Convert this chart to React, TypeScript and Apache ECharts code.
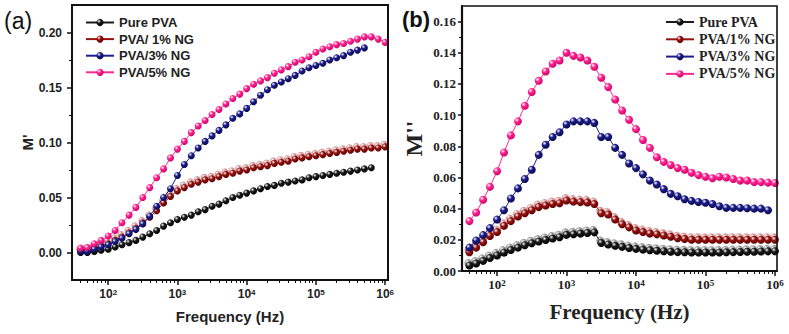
import React, { useEffect, useRef } from 'react';
import * as echarts from 'echarts';

// Measurement frequencies (Hz), 10 points per decade
const FREQ = [
  40, 50, 63, 79, 100, 126, 158, 200, 251, 316, 398, 501, 631, 794, 1000, 1259, 1585, 1995, 2512,
  3162, 3981, 5012, 6310, 7943, 10000, 12589, 15849, 19953, 25119, 31623, 39811, 50119, 63096,
  79433, 100000, 125893, 158489, 199526, 251189, 316228, 398107, 501187, 630957, 794328, 1000000,
];

const NAMES_A = ['Pure PVA', 'PVA/ 1% NG', 'PVA/3% NG', 'PVA/5% NG'];
const NAMES_B = ['Pure PVA', 'PVA/1% NG', 'PVA/3% NG', 'PVA/5% NG'];

// (a) real part M'
const MR_PURE = [
  0.0, 0.0, 0.001, 0.002, 0.003, 0.005, 0.007, 0.009, 0.011, 0.014,
  0.017, 0.02, 0.024, 0.027, 0.03, 0.032, 0.034, 0.037, 0.039, 0.042,
  0.044, 0.047, 0.05, 0.052, 0.054, 0.056, 0.058, 0.06, 0.061, 0.063,
  0.064, 0.065, 0.066, 0.068, 0.069, 0.07, 0.071, 0.072, 0.073, 0.074,
  0.075, 0.076, 0.077,
];
const MR_NG1 = [
  0.001, 0.002, 0.004, 0.006, 0.008, 0.011, 0.014, 0.018, 0.022, 0.027,
  0.032, 0.038, 0.045, 0.051, 0.056, 0.059, 0.062, 0.064, 0.066, 0.067,
  0.069, 0.071, 0.072, 0.074, 0.075, 0.077, 0.078, 0.079, 0.081, 0.082,
  0.083, 0.085, 0.086, 0.087, 0.088, 0.089, 0.09, 0.091, 0.092, 0.093,
  0.094, 0.094, 0.095, 0.095, 0.096,
];
const MR_NG3 = [
  0.001, 0.001, 0.003, 0.005, 0.007, 0.01, 0.013, 0.017, 0.021, 0.026,
  0.033, 0.042, 0.05, 0.058, 0.07, 0.08, 0.088, 0.095, 0.101, 0.106,
  0.111, 0.116, 0.122, 0.126, 0.131, 0.137, 0.143, 0.148, 0.152, 0.155,
  0.158, 0.161, 0.165, 0.168, 0.17, 0.172, 0.175, 0.177, 0.179, 0.182,
  0.184, 0.186,
];
const MR_NG5 = [
  0.004, 0.0045, 0.008, 0.011, 0.015, 0.02, 0.027, 0.034, 0.041, 0.05,
  0.059, 0.068, 0.076, 0.086, 0.094, 0.101, 0.109, 0.115, 0.12, 0.1255,
  0.13, 0.135, 0.14, 0.144, 0.149, 0.153, 0.156, 0.159, 0.163, 0.166,
  0.169, 0.173, 0.175, 0.178, 0.182, 0.185, 0.187, 0.189, 0.19, 0.192,
  0.194, 0.196, 0.196, 0.194, 0.191,
];

// (b) imaginary part M''
const MI_PURE = [
  0.0035, 0.0048, 0.0065, 0.0083, 0.01, 0.0118, 0.0135, 0.015, 0.0165, 0.0178,
  0.0189, 0.0199, 0.0208, 0.0217, 0.0232, 0.0236, 0.024, 0.0244, 0.0248, 0.018,
  0.017, 0.0162, 0.0155, 0.0148, 0.0142, 0.0137, 0.0133, 0.013, 0.0127, 0.0124,
  0.0121, 0.012, 0.0119, 0.0119, 0.0119, 0.0119, 0.0119, 0.012, 0.0121, 0.0122,
  0.0123, 0.0124, 0.0125, 0.0126, 0.0127,
];
const MI_NG1 = [
  0.012, 0.015, 0.0185, 0.0225, 0.025, 0.029, 0.032, 0.035, 0.037, 0.039,
  0.041, 0.042, 0.043, 0.0435, 0.0452, 0.0445, 0.0442, 0.044, 0.043, 0.037,
  0.0362, 0.033, 0.03, 0.028, 0.026, 0.025, 0.024, 0.0235, 0.0228, 0.022,
  0.021, 0.0205, 0.02, 0.02, 0.02, 0.02, 0.02, 0.02, 0.02, 0.02,
  0.02, 0.02, 0.02, 0.02, 0.02,
];
const MI_NG3 = [
  0.015, 0.0196, 0.023, 0.0275, 0.033, 0.039, 0.0465, 0.053, 0.059, 0.065,
  0.0745, 0.081, 0.086, 0.089, 0.094, 0.096, 0.096, 0.096, 0.095, 0.086,
  0.086, 0.079, 0.0745, 0.069, 0.066, 0.062, 0.058, 0.0555, 0.0525, 0.0495,
  0.048, 0.046, 0.045, 0.0443, 0.0438, 0.043, 0.0415, 0.0405, 0.0405, 0.0405,
  0.0403, 0.04, 0.04, 0.039,
];
const MI_NG5 = [
  0.032, 0.0375, 0.0457, 0.054, 0.064, 0.076, 0.087, 0.096, 0.106, 0.1148,
  0.122, 0.128, 0.133, 0.135, 0.14, 0.138, 0.137, 0.135, 0.131, 0.124,
  0.118, 0.11, 0.103, 0.097, 0.091, 0.084, 0.079, 0.073, 0.07, 0.068,
  0.066, 0.065, 0.063, 0.0615, 0.0605, 0.0595, 0.0605, 0.06, 0.059, 0.058,
  0.058, 0.057, 0.057, 0.0567, 0.0565,
];

// Axis ticks
const X_MAJOR = [100, 1000, 10000, 100000, 1000000];
const X_MINOR = [
  40, 50, 60, 70, 80, 90, 200, 300, 400, 500, 600, 700, 800, 900,
  2000, 3000, 4000, 5000, 6000, 7000, 8000, 9000,
  20000, 30000, 40000, 50000, 60000, 70000, 80000, 90000,
  200000, 300000, 400000, 500000, 600000, 700000, 800000, 900000,
];
const Y_TICKS_A = [0, 0.05, 0.1, 0.15, 0.2];
const Y_MINOR_A = [0.025, 0.075, 0.125, 0.175];
const Y_TICKS_B = [0, 0.02, 0.04, 0.06, 0.08, 0.1, 0.12, 0.14, 0.16];
const Y_MINOR_B = [0.01, 0.03, 0.05, 0.07, 0.09, 0.11, 0.13, 0.15];

const COLORS = [
  { base: '#1c1c1c', dark: '#000000' },
  { base: '#9a1212', dark: '#560000' },
  { base: '#1d1d8e', dark: '#08084a' },
  { base: '#ff2893', dark: '#cc0066' },
];
const SHADES = ['#9c9c9c', '#d79a9a'];

const SANS = 'Liberation Sans, Arial, sans-serif';
const SERIF = 'Liberation Serif, Times New Roman, serif';

const X_RANGE_A = [30, 1.1e6];
const X_RANGE_B = [31.3, 1.07e6];
const Y_RANGE_A = [-0.025, 0.225];
const Y_RANGE_B = [0, 0.17];

// plot boxes of the two panels
const BOX_A = { left: 72, top: 5, width: 316, height: 275 };
const BOX_B = { left: 462, top: 6, width: 315, height: 265 };

const pair = (vals: number[]) => vals.map((v, i) => [FREQ[i], v]);

const ball = (base: string, dark: string) =>
  new echarts.graphic.RadialGradient(0.35, 0.32, 0.72, [
    { offset: 0, color: '#ffffff' },
    { offset: 0.38, color: base },
    { offset: 1, color: dark },
  ]);

export default function App() {
  const ref = useRef<HTMLDivElement>(null);

  useEffect(() => {
    if (!ref.current) return;
    const chart = echarts.init(ref.current, undefined, { renderer: 'svg' });

    const powLabel = (font: string, size: number, supSize: number) => ({
      formatter: (v: number) => `{b|10}{s|${Math.round(Math.log10(v))}}`,
      rich: {
        b: { fontFamily: font, fontWeight: 'bold', fontSize: size, color: '#222', verticalAlign: 'bottom' },
        s: { fontFamily: font, fontWeight: 'bold', fontSize: supSize, color: '#222', verticalAlign: 'top' },
      },
    });

    const mkSeries = (
      name: string,
      vals: number[],
      ci: number,
      axis: number,
      size: number,
      lineWidth: number,
    ) => ({
      type: 'line',
      name,
      data: pair(vals),
      xAxisIndex: axis,
      yAxisIndex: axis,
      symbol: 'circle',
      symbolSize: size,
      showSymbol: true,
      lineStyle: { color: COLORS[ci].base, width: lineWidth },
      itemStyle: { color: ball(COLORS[ci].base, COLORS[ci].dark), borderWidth: 0 },
      emphasis: { disabled: true },
      z: 3 + ci,
    });

    const mkShade = (vals: number[], si: number, axis: number, size: number) => ({
      type: 'line',
      name: `shade-${axis}-${si}`,
      data: pair(vals),
      xAxisIndex: axis,
      yAxisIndex: axis,
      symbol: 'circle',
      symbolSize: size,
      symbolOffset: [-1, -2.5],
      lineStyle: { width: 0, opacity: 0 },
      itemStyle: { color: ball(SHADES[si], SHADES[si]), borderWidth: 0 },
      silent: true,
      z: 2,
    });

    // helper x axis carrying the minor ticks
    const minorX = (grid: number, range: number[]) => ({
      type: 'log',
      logBase: 10,
      gridIndex: grid,
      position: 'bottom',
      min: range[0],
      max: range[1],
      axisLine: { show: false, onZero: false },
      axisTick: { show: true, customValues: X_MINOR, length: 3, lineStyle: { color: '#111', width: 1 } },
      axisLabel: { show: false },
      splitLine: { show: false },
    });
    const minorY = (grid: number, range: number[], vals: number[]) => ({
      type: 'value',
      gridIndex: grid,
      position: 'left',
      min: range[0],
      max: range[1],
      axisLine: { show: false, onZero: false },
      axisTick: { show: true, customValues: vals, length: 3, lineStyle: { color: '#111', width: 1 } },
      axisLabel: { show: false },
      splitLine: { show: false },
    });

    const frame = (box: typeof BOX_A, w: number) => ({
      type: 'rect',
      shape: { x: box.left, y: box.top, width: box.width, height: box.height },
      style: { fill: 'none', stroke: '#111', lineWidth: w },
      silent: true,
      z: 10,
    });

    chart.setOption({
      animation: false,
      backgroundColor: '#ffffff',
      grid: [BOX_A, BOX_B],
      legend: [
        {
          data: NAMES_A,
          orient: 'vertical',
          left: 80,
          top: 11,
          itemWidth: 28,
          itemHeight: 9,
          itemGap: 3.6,
          textStyle: { fontFamily: SANS, fontWeight: 'bold', fontSize: 13, color: '#222' },
        },
        {
          data: NAMES_B,
          orient: 'vertical',
          left: 660,
          top: 10,
          itemWidth: 28,
          itemHeight: 9,
          itemGap: 3.3,
          textStyle: { fontFamily: SERIF, fontWeight: 'bold', fontSize: 14, color: '#222' },
        },
      ],
      xAxis: [
        {
          type: 'log',
          logBase: 10,
          gridIndex: 0,
          position: 'bottom',
          min: X_RANGE_A[0],
          max: X_RANGE_A[1],
          name: 'Frequency (Hz)',
          nameLocation: 'middle',
          nameGap: 29,
          nameTextStyle: { fontFamily: SANS, fontWeight: 'bold', fontSize: 15, color: '#222' },
          axisLine: { show: true, onZero: false, lineStyle: { color: '#111', width: 2 } },
          axisTick: { show: true, customValues: X_MAJOR, length: 5, lineStyle: { color: '#111', width: 1.5 } },
          axisLabel: { customValues: X_MAJOR, margin: 8, ...powLabel(SANS, 12, 8) },
          splitLine: { show: false },
        },
        minorX(0, X_RANGE_A),
        {
          type: 'log',
          logBase: 10,
          gridIndex: 1,
          position: 'bottom',
          min: X_RANGE_B[0],
          max: X_RANGE_B[1],
          name: 'Frequency (Hz)',
          nameLocation: 'middle',
          nameGap: 30,
          nameTextStyle: { fontFamily: SERIF, fontWeight: 'bold', fontSize: 21, color: '#222' },
          axisLine: { show: true, onZero: false, lineStyle: { color: '#111', width: 2.2 } },
          axisTick: { show: true, customValues: X_MAJOR, length: 5, lineStyle: { color: '#111', width: 1.5 } },
          axisLabel: { customValues: X_MAJOR, margin: 7, ...powLabel(SERIF, 13, 9) },
          splitLine: { show: false },
        },
        minorX(1, X_RANGE_B),
      ],
      yAxis: [
        {
          type: 'value',
          gridIndex: 0,
          position: 'left',
          min: Y_RANGE_A[0],
          max: Y_RANGE_A[1],
          name: "M'",
          nameLocation: 'middle',
          nameGap: 32,
          nameTextStyle: { fontFamily: SANS, fontWeight: 'bold', fontSize: 15, color: '#222' },
          axisLine: { show: true, onZero: false, lineStyle: { color: '#111', width: 2 } },
          axisTick: { show: true, customValues: Y_TICKS_A, length: 5, lineStyle: { color: '#111', width: 1.5 } },
          axisLabel: {
            customValues: Y_TICKS_A,
            margin: 10,
            formatter: (v: number) => v.toFixed(2),
            fontFamily: SANS,
            fontWeight: 'bold',
            fontSize: 12,
            color: '#222',
          },
          splitLine: { show: false },
        },
        minorY(0, Y_RANGE_A, Y_MINOR_A),
        {
          type: 'value',
          gridIndex: 1,
          position: 'left',
          min: Y_RANGE_B[0],
          max: Y_RANGE_B[1],
          name: "M''",
          nameLocation: 'middle',
          nameGap: 36,
          nameTextStyle: { fontFamily: SERIF, fontWeight: 'bold', fontSize: 24, color: '#222' },
          axisLine: { show: true, onZero: false, lineStyle: { color: '#111', width: 2.2 } },
          axisTick: { show: true, customValues: Y_TICKS_B, length: 4, lineStyle: { color: '#111', width: 1.5 } },
          axisLabel: {
            customValues: Y_TICKS_B,
            margin: 6,
            formatter: (v: number) => v.toFixed(2),
            fontFamily: SERIF,
            fontWeight: 'bold',
            fontSize: 13,
            color: '#222',
          },
          splitLine: { show: false },
        },
        minorY(1, Y_RANGE_B, Y_MINOR_B),
      ],
      graphic: [
        frame(BOX_A, 2),
        frame(BOX_B, 1.6),
        { type: 'text', left: 4, top: 9, style: { text: '(a)', fontFamily: SANS, fontSize: 23, fill: '#111' } },
        { type: 'text', left: 402, top: 8, style: { text: '(b)', fontFamily: SANS, fontWeight: 'bold', fontSize: 22, fill: '#111' } },
      ],
      series: [
        mkShade(MR_NG1, 1, 0, 7),
        mkSeries(NAMES_A[0], MR_PURE, 0, 0, 7, 1),
        mkSeries(NAMES_A[1], MR_NG1, 1, 0, 7, 1),
        mkSeries(NAMES_A[2], MR_NG3, 2, 0, 7, 1),
        mkSeries(NAMES_A[3], MR_NG5, 3, 0, 7, 1),
        mkShade(MI_PURE, 0, 2, 8),
        mkShade(MI_NG1, 1, 2, 8),
        mkSeries(NAMES_B[0], MI_PURE, 0, 2, 8, 1),
        mkSeries(NAMES_B[1], MI_NG1, 1, 2, 8, 1),
        mkSeries(NAMES_B[2], MI_NG3, 2, 2, 8, 1),
        mkSeries(NAMES_B[3], MI_NG5, 3, 2, 8, 1),
      ],
    });

    return () => chart.dispose();
  }, []);

  return (
    <div
      ref={ref}
      style={{ position: 'fixed', left: 0, top: 0, width: 789, height: 334, background: '#fff' }}
    />
  );
}
